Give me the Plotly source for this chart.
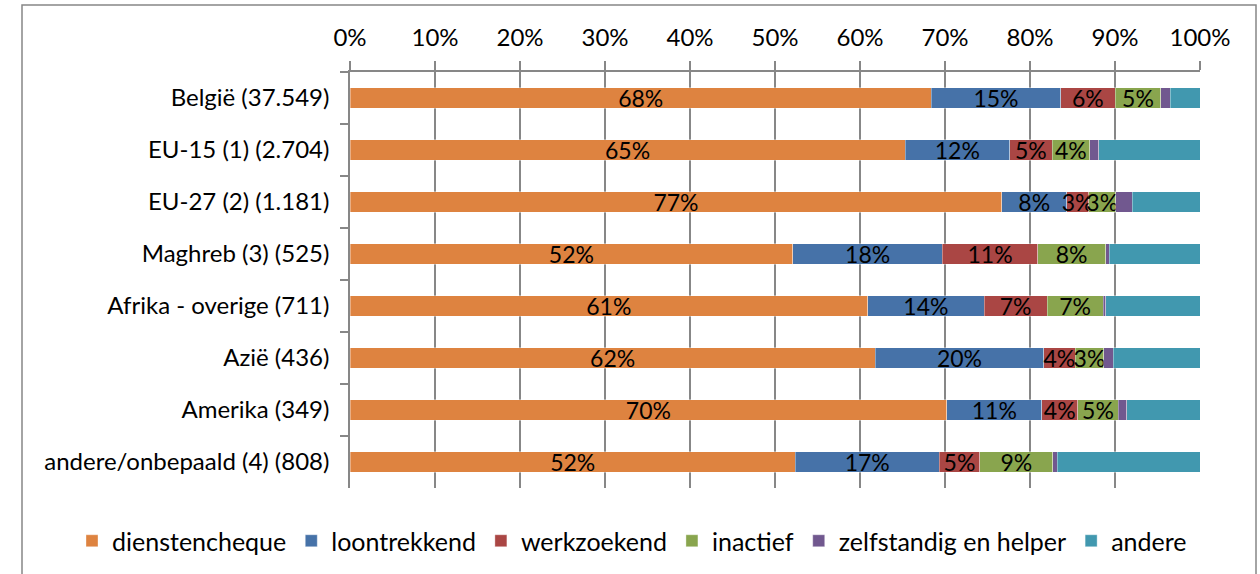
import plotly.graph_objects as go

categories = ["België (37.549)", "EU-15 (1) (2.704)", "EU-27 (2) (1.181)", "Maghreb (3) (525)",
              "Afrika - overige (711)", "Azië (436)", "Amerika (349)", "andere/onbepaald (4) (808)"]

dienstencheque = [68.4, 65.3, 76.7, 52.1, 60.9, 61.8, 70.2, 52.4]
loontrekkend = [15.2, 12.3, 7.6, 17.6, 13.7, 19.8, 11.2, 16.9]
werkzoekend = [6.4, 5.0, 2.6, 11.2, 7.4, 3.7, 4.2, 4.8]
inactief = [5.4, 4.4, 3.2, 8.0, 6.6, 3.4, 4.8, 8.6]
zelfstandig = [1.1, 1.1, 1.9, 0.4, 0.3, 1.1, 1.0, 0.5]
andere = [3.5, 11.9, 8.0, 10.7, 11.1, 10.2, 8.6, 16.8]

tick_vals = [0, 10, 20, 30, 40, 50, 60, 70, 80, 90, 100]
tick_text = ["0%", "10%", "20%", "30%", "40%", "50%", "60%", "70%", "80%", "90%", "100%"]

series = [
    ("dienstencheque", dienstencheque, "#DE8340", True),
    ("loontrekkend", loontrekkend, "#4672A8", True),
    ("werkzoekend", werkzoekend, "#AA4644", True),
    ("inactief", inactief, "#89A54E", True),
    ("zelfstandig en helper", zelfstandig, "#71588F", False),
    ("andere", andere, "#4198AF", False),
]

FONT = "Lato, Carlito, Calibri, sans-serif"
FS = 24

fig = go.Figure()
for name, vals, color, labelled in series:
    fig.add_trace(go.Bar(
        y=categories, x=vals, name=name, orientation="h",
        marker=dict(color=color, line=dict(color="rgba(255,255,255,0.6)", width=0.6)),
        texttemplate="%{x:.0f}%" if labelled else None,
        textposition="inside" if labelled else "none",
        insidetextanchor="middle",
        textfont=dict(color="black", size=23, family=FONT),
        hoverinfo="x+name",
    ))

fig.update_layout(
    barmode="stack",
    bargap=0.6,
    width=1260, height=574,
    margin=dict(l=350, r=60, t=72, b=86, autoexpand=False),
    paper_bgcolor="white", plot_bgcolor="white",
    font=dict(family=FONT, size=FS, color="black"),
    uniformtext=dict(mode="show", minsize=23),
    showlegend=True,
    legend=dict(orientation="h", xref="paper", x=(72 - 350) / 850, xanchor="left",
                yref="paper", y=(488 - 541) / 416, yanchor="middle",
                font=dict(size=25, color="black"),
                traceorder="normal", itemclick=False, itemwidth=30),
    xaxis=dict(side="top", range=[0, 100], tickvals=tick_vals, ticktext=tick_text,
               showgrid=True, gridcolor="#878787", gridwidth=1.5,
               showline=True, linecolor="#878787", linewidth=1.5,
               ticks="outside", ticklen=9, tickcolor="#878787", tickwidth=1.5,
               zeroline=False, tickfont=dict(size=FS, color="black"), tickangle=0,
               ticklabelstandoff=6, automargin=False),
    yaxis=dict(categoryorder="array", categoryarray=categories, autorange="reversed",
               showline=True, linecolor="#878787", linewidth=1.5,
               ticks="outside", tickson="boundaries", ticklen=8, tickcolor="#878787", tickwidth=1.5,
               showgrid=False, tickfont=dict(size=FS, color="black"),
               ticklabelstandoff=14, automargin=False),
    shapes=[dict(type="rect", xref="paper", yref="paper",
                 x0=(22 - 350) / 850, x1=(1256 - 350) / 850,
                 y0=-0.25, y1=(488 - 5) / 416,
                 line=dict(color="#878787", width=1.5), fillcolor="rgba(0,0,0,0)", layer="below")],
)

fig.write_html("out.html", config={"displayModeBar": False},
               post_script="document.body.style.margin='0';document.body.style.overflow='hidden';")
